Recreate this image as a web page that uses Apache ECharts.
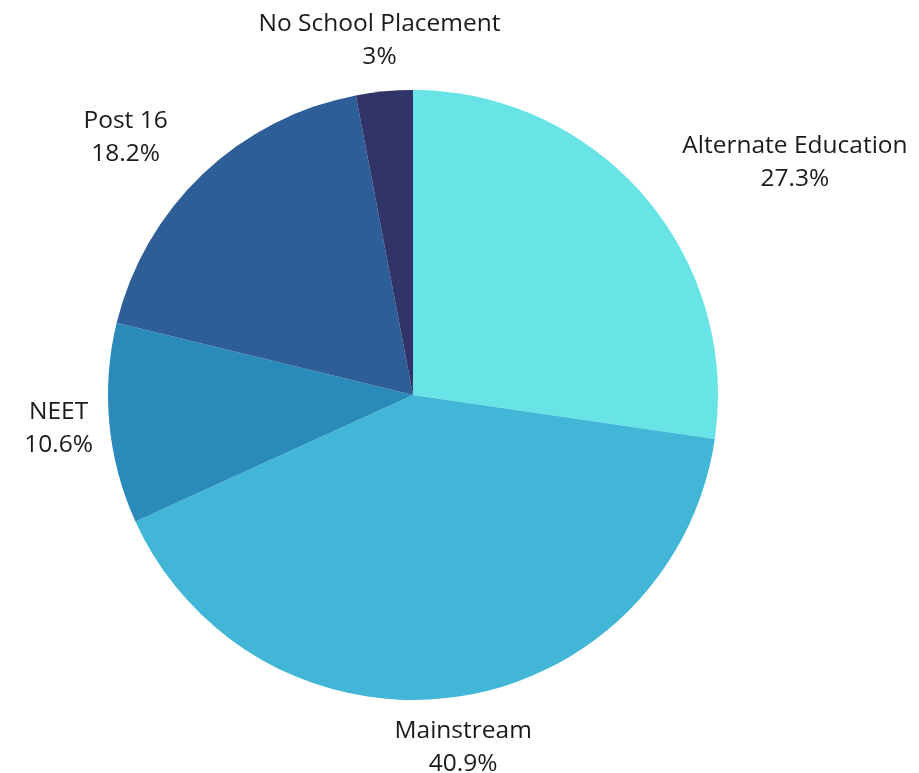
<!DOCTYPE html>
<html>
<head>
<meta charset="utf-8">
<script src="https://cdn.jsdelivr.net/npm/echarts@6/dist/echarts.min.js"></script>
<style>
  html, body { margin: 0; padding: 0; background: #ffffff; }
  #chart { width: 919px; height: 773px; }
</style>
</head>
<body>
<div id="chart"></div>
<script>
// Destinations, in clockwise order from 12 o'clock
const categories = ['Alternate Education', 'Mainstream', 'NEET', 'Post 16', 'No School Placement'];
const shares = [27.3, 40.9, 10.6, 18.2, 3];
const sliceColors = ['#68E4E7', '#41B6D6', '#2A8AB9', '#2D5E97', '#313468'];
// How each label block sits against its anchor point
const labelAligns = ['left', 'center', 'center', 'right', 'center'];

const chart = echarts.init(document.getElementById('chart'), null, { renderer: 'canvas' });

chart.setOption({
  backgroundColor: '#ffffff',
  animation: false,
  series: [{
    type: 'pie',
    center: [413, 395],
    radius: [0, 305],
    startAngle: 90,
    clockwise: true,
    avoidLabelOverlap: false,
    data: categories.map((name, i) => ({
      name: name,
      value: shares[i],
      itemStyle: { color: sliceColors[i] }
    })),
    itemStyle: { borderWidth: 0 },
    label: {
      show: true,
      position: 'outside',
      distanceToLabelLine: 0,
      formatter: '{t|{b}}\n{t|{c}%}',
      rich: {
        t: {
          fontFamily: 'Open Sans',
          fontSize: 24.5,
          lineHeight: 33,
          color: '#1a1a1a',
          align: 'center'
        }
      }
    },
    labelLine: { show: false, length: 51, length2: 0 },
    labelLayout: function (params) {
      return { align: labelAligns[params.dataIndex] };
    },
    emphasis: { disabled: true }
  }]
});
</script>
</body>
</html>
